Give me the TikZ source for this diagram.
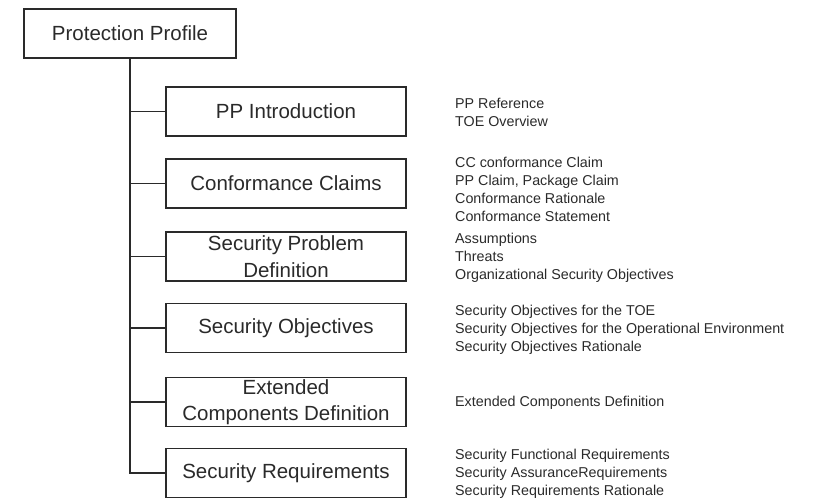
\documentclass[tikz,border=0pt]{standalone}
\usepackage{fontspec}
\setmainfont{Liberation Sans}
\definecolor{ink}{HTML}{2A2A2A}
\begin{document}
\begin{tikzpicture}[x=1pt,y=-1pt,
  box/.style={draw=ink,line width=1.3pt,minimum width=240pt,minimum height=49pt,inner sep=0pt,align=center,text=ink,font=\fontsize{20.5}{26.5}\selectfont},
  info/.style={anchor=west,align=left,inner sep=0pt,text=ink,font=\fontsize{14.3}{17.8}\selectfont},
  conn/.style={draw=ink,line width=1.3pt}]
\useasboundingbox (0,0) rectangle (820,499);
\node[box,minimum width=212pt] (pp) at (130,33.5) {Protection Profile};
\node[box] (intro) at (286,111.5) {PP Introduction};
\node[box] (cc) at (286,183.5) {Conformance Claims};
\node[box] (spd) at (286,256.5) {Security Problem\\Definition};
\node[box] (so) at (286,328) {Security Objectives};
\node[box] (ecd) at (286,402) {Extended\\Components Definition};
\node[box] (sr) at (286,473) {Security Requirements};
\draw[conn] (pp.south) -- (pp.south |- sr.west) -- (sr.west);
\foreach \n in {intro,cc,spd,so,ecd} \draw[conn] (pp.south |- \n.west) -- (\n.west);
\node[info] (t1) at (455,112) {PP Reference\\TOE Overview};
\node[info] (t2) at (455,189.5) {CC conformance Claim\\PP Claim, Package Claim\\Conformance Rationale\\Conformance Statement};
\node[info] (t3) at (455,257.5) {Assumptions\\Threats\\Organizational Security Objectives};
\node[info] (t4) at (455,329.5) {Security Objectives for the TOE\\Security Objectives for the Operational Environment\\Security Objectives Rationale};
\node[info] (t5) at (455,403) {Extended Components Definition};
\node[info] (t6) at (455,474) {Security Functional Requirements\\Security AssuranceRequirements\\Security Requirements Rationale};
\end{tikzpicture}
\end{document}
